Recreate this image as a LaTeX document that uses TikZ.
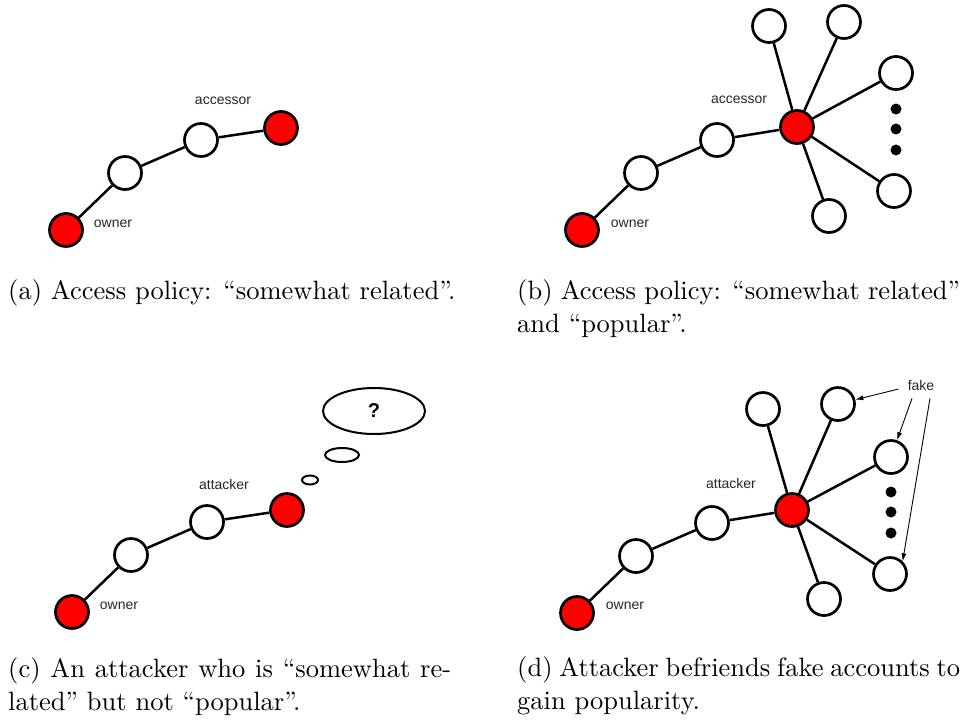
\documentclass[tikz,border=0pt]{standalone}
\usepackage{fontspec}
\newfontfamily\helv{Liberation Sans}
\newfontfamily\capfont{lmroman10-regular}[Extension=.otf,Ligatures=TeX]
\usetikzlibrary{shapes.geometric,arrows.meta}
\newcommand{\capline}[1]{\makebox[443pt][s]{#1}}
\begin{document}
\begin{tikzpicture}[x=1pt,y=-1pt,
  vert/.style={circle,draw=black,line width=2.7pt,minimum size=33pt,inner sep=0pt},
  wnode/.style={vert,fill=white},
  rnode/.style={vert,fill=red},
  dotn/.style={circle,fill=black,minimum size=11pt,inner sep=0pt},
  link/.style={line width=2.5pt},
  lbl/.style={font=\helv\fontsize{14}{16}\selectfont,text=black!85,inner sep=0pt},
  captxt/.style={font=\capfont\fontsize{26.5}{33}\selectfont,align=left,inner sep=0pt,anchor=base west},
  bub/.style={ellipse,draw,line width=2pt,inner sep=0pt},
  arr/.style={line width=0.9pt,-{Latex[length=8pt,width=5pt]}}]
\useasboundingbox (0,0) rectangle (965,723);

% ---------- (a)
\node[rnode] (ao) at (66,230) {};
\node[wnode] (aw1) at (125,173) {};
\node[wnode] (aw2) at (201,140) {};
\node[rnode] (ar) at (281,128) {};
\draw[link] (ao) -- (aw1) (aw1) -- (aw2) (aw2) -- (ar);
\node[lbl] (alacc) at (223,101) {accessor};
\node[lbl] (alown) at (113,224) {owner};
\node[captxt] (capa) at (8,299) {(a) Access policy: “somewhat related”.};

% ---------- (b)
\node[rnode] (bo) at (582,230) {};
\node[wnode] (bw1) at (641,173) {};
\node[wnode] (bw2) at (717,140) {};
\node[rnode] (br) at (797,127) {};
\node[wnode] (bt1) at (769,26) {};
\node[wnode] (bt2) at (844,22) {};
\node[wnode] (brt) at (896,73) {};
\node[wnode] (brb) at (894,191) {};
\node[wnode] (bbt) at (829,216) {};
\node[dotn] (bd1) at (896,109) {};
\node[dotn] (bd2) at (896,129) {};
\node[dotn] (bd3) at (896,150) {};
\draw[link] (bo) -- (bw1) (bw1) -- (bw2) (bw2) -- (br);
\draw[link] (br) -- (bt1) (br) -- (bt2) (br) -- (brt) (br) -- (brb) (br) -- (bbt);
\node[lbl] (blacc) at (739,100) {accessor};
\node[lbl] (blown) at (630,224) {owner};
\node[captxt] (capb) at (517,332) {\capline{(b) Access policy: “somewhat related”}\\and “popular”.};

% ---------- (c)
\node[rnode] (co) at (72,612) {};
\node[wnode] (cw1) at (131,555) {};
\node[wnode] (cw2) at (207,522) {};
\node[rnode] (cr) at (287,510) {};
\draw[link] (co) -- (cw1) (cw1) -- (cw2) (cw2) -- (cr);
\node[lbl] (clatt) at (224,484) {attacker};
\node[lbl] (clown) at (119,606) {owner};
\node[bub,minimum width=102pt,minimum height=46pt,font=\helv\bfseries\fontsize{20}{22}\selectfont] (bubble) at (374,411) {?};
\node[bub,minimum width=34pt,minimum height=14pt] (bubm) at (342,455) {};
\node[bub,minimum width=16pt,minimum height=9pt] (bubs) at (310,480) {};
\node[captxt] (capc) at (8,710) {\capline{(c) An attacker who is “somewhat re-}\\lated” but not “popular”.};

% ---------- (d)
\node[rnode] (do) at (577,613) {};
\node[wnode] (dw1) at (636,556) {};
\node[wnode] (dw2) at (712,523) {};
\node[rnode] (dr) at (792,510) {};
\node[wnode] (dt1) at (763,409) {};
\node[wnode] (dt2) at (838,404) {};
\node[wnode] (drt) at (891,457) {};
\node[wnode] (drb) at (890,574) {};
\node[wnode] (dbt) at (824,599) {};
\node[dotn] (dd1) at (891,492) {};
\node[dotn] (dd2) at (891,512) {};
\node[dotn] (dd3) at (891,533) {};
\draw[link] (do) -- (dw1) (dw1) -- (dw2) (dw2) -- (dr);
\draw[link] (dr) -- (dt1) (dr) -- (dt2) (dr) -- (drt) (dr) -- (drb) (dr) -- (dbt);
\node[lbl] (dlatt) at (731,483) {attacker};
\node[lbl] (dlown) at (625,606) {owner};
\node[lbl,inner xsep=9pt,inner ysep=8pt] (fake) at (921,385) {fake};
\draw[arr] ([yshift=-4pt]fake.west) -- (dt2);
\draw[arr] ([xshift=-9pt]fake.south) -- (drt);
\draw[arr] ([xshift=9pt]fake.south) -- (drb.north east);
\node[captxt] (capd) at (517,709) {\capline{(d) Attacker befriends fake accounts to}\\gain popularity.};
\end{tikzpicture}
\end{document}
